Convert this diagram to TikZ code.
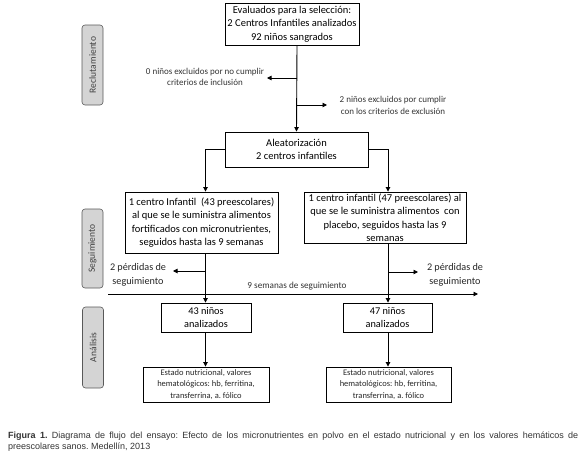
\documentclass[tikz,border=0pt]{standalone}
\usepackage{fontspec}
\setmainfont{Carlito}
\newfontfamily\capfont{Liberation Sans}
\usetikzlibrary{arrows.meta,calc}
\frenchspacing
\begin{document}
\begin{tikzpicture}[x=1pt,y=-1pt,
  box/.style={draw, line width=0.9pt, align=center, inner sep=0pt, font=\fontsize{10.5}{13.5}\selectfont},
  smallbox/.style={draw, line width=0.9pt, align=center, inner sep=0pt, font=\fontsize{8.5}{11.5}\selectfont, text=black!85},
  note/.style={align=center, inner sep=0pt, font=\fontsize{9}{11.5}\selectfont, text=black!80},
  lossnote/.style={align=center, inner sep=0pt, font=\fontsize{10.2}{13.5}\selectfont, text=black!85},
  sidelab/.style={draw=black!65, fill=black!17, line width=0.6pt, rounded corners=3pt, rotate=90,
    minimum height=21pt, inner sep=0pt, font=\fontsize{9.5}{11}\selectfont, text=black!75},
  arr/.style={-{Triangle[length=4.5pt,width=4.5pt]}, line width=0.9pt},
  ln/.style={line width=0.9pt}]
\useasboundingbox (0,0) rectangle (580,455);

% side labels
\node[sidelab, minimum width=80pt] (s1) at (92.5,65) {Reclutamiento};
\node[sidelab, minimum width=79pt] (s2) at (92.5,248.5) {Seguimiento};
\node[sidelab, minimum width=81pt] (s3) at (93,347.5) {Análisis};

% column lines
\coordinate (L) at (205.5,0);
\coordinate (R) at (388,0);
\coordinate (M) at (297,0);

% boxes
\node[box, minimum width=134pt, minimum height=42pt] (b1) at (292,24)
  {Evaluados para la selección:\\ 2 Centros Infantiles analizados\\ 92 niños sangrados};
\node[box, minimum width=143pt, minimum height=35pt] (alea) at (296.5,149.5)
  {Aleatorización\\ 2 centros infantiles};
\node[box, minimum width=153pt, minimum height=61pt] (lb) at (201.5,222.5)
  {1 centro Infantil\ \ (43 preescolares)\\ al que se le suministra alimentos\\ fortificados con micronutrientes,\\ seguidos hasta las 9 semanas};
\node[box, minimum width=162pt, minimum height=51pt] (rb) at (385,217.5)
  {1 centro infantil (47 preescolares) al\\ que se le suministra alimentos\ \ con\\ placebo, seguidos hasta las 9\\ semanas};
\node[box, minimum width=90pt, minimum height=29pt, font=\fontsize{10.3}{12.5}\selectfont] (n43) at (206,317.5)
  {43 niños\\ analizados};
\node[box, minimum width=89pt, minimum height=29pt, font=\fontsize{10.3}{12.5}\selectfont] (n47) at (387.5,317.5)
  {47 niños\\ analizados};
\node[smallbox, minimum width=126pt, minimum height=35pt] (e43) at (206,384.5)
  {Estado nutricional, valores\\ hematológicos: hb, ferritina,\\ transferrina, a. fólico};
\node[smallbox, minimum width=125pt, minimum height=35pt] (e47) at (388.5,384.5)
  {Estado nutricional, valores\\ hematológicos: hb, ferritina,\\ transferrina, a. fólico};

% exclusion notes
\node[note] (ex1) at (205,77) {0 niños excluidos por no cumplir\\ criterios de inclusión};
\node[note] (ex2) at (393,105.5) {2 niños excluidos por cumplir\\ con los criterios de exclusión};
\coordinate (j1) at (297,78);
\coordinate (j2) at (297,105);
\coordinate (ex1tip) at (267,78);
\coordinate (ex2tip) at (327,105);

% loss notes
\node[lossnote] (p1) at (138,275) {2 pérdidas de\\ seguimiento};
\node[lossnote] (p2) at (455,275) {2 pérdidas de\\ seguimiento};
\coordinate (q1) at (205.5,271);
\coordinate (q2) at (388,272);
\coordinate (p1tip) at (173,271);
\coordinate (p2tip) at (418,272);

% time axis
\coordinate (axL) at (108,294);
\coordinate (axR) at (478,294);
\node[note, font=\fontsize{9.2}{10}\selectfont] (ax) at (297,286) {9 semanas de seguimiento};

% connectors
\draw[arr] (b1.south -| M) -- (alea.north);
\draw[arr] (j1) -- (ex1tip);
\draw[arr] (j2) -- (ex2tip);
\draw[arr] (alea.west) -| (lb.north -| L);
\draw[arr] (alea.east) -| (rb.north -| R);
\draw[arr] (lb.south -| L) -- (n43.north -| L);
\draw[arr] (rb.south -| R) -- (n47.north -| R);
\draw[arr] (q1) -- (p1tip);
\draw[arr] (q2) -- (p2tip);
\draw[arr] (axL) -- (axR);
\draw[arr] (n43.south -| L) -- (e43.north -| L);
\draw[arr] (n47.south -| R) -- (e47.north -| R);

% caption
\node[anchor=north west, inner sep=0pt, text width=570pt, align=justify,
  font=\capfont\fontsize{9}{11}\selectfont, text=black!80] (cap) at (8,431.5)
  {\textbf{Figura 1.} Diagrama de flujo del ensayo: Efecto de los micronutrientes en polvo en el estado nutricional y en los valores hemáticos de\linebreak preescolares sanos. Medellín, 2013};
\end{tikzpicture}
\end{document}
